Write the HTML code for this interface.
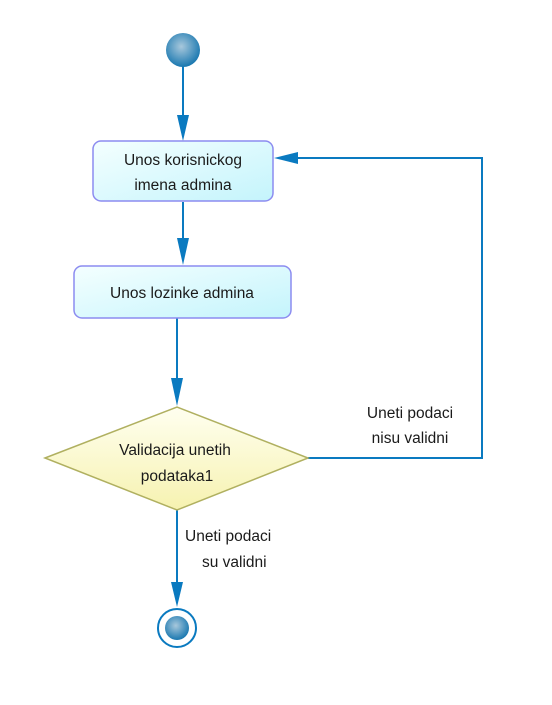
<!DOCTYPE html>
<html><head><style>body{margin:0;background:#fff}</style></head><body>
<svg width="552" height="700" xmlns="http://www.w3.org/2000/svg" font-family="Liberation Sans, sans-serif" font-size="15.5" fill="#1a1a1a">
<defs>
<radialGradient id="g" cx="45%" cy="40%" r="60%"><stop offset="0" stop-color="#a8c8dc"/><stop offset="1" stop-color="#1a78b0"/></radialGradient>
<linearGradient id="b" x1="0" y1="0" x2="1" y2="1"><stop offset="0" stop-color="#f4ffff"/><stop offset="1" stop-color="#c4f4fc"/></linearGradient>
<linearGradient id="d" x1="0" y1="0" x2="0" y2="1"><stop offset="0" stop-color="#fffff0"/><stop offset="1" stop-color="#f6f2b0"/></linearGradient>
</defs>
<g stroke="#0a7ac0" stroke-width="2" fill="none">
<line x1="183" y1="66" x2="183" y2="120"/>
<line x1="183" y1="202" x2="183" y2="244"/>
<line x1="177" y1="318" x2="177" y2="384"/>
<line x1="177" y1="510" x2="177" y2="588"/>
<polyline points="308,458 482,458 482,158 292,158"/>
</g>
<g fill="#0a7ac0">
<polygon points="177,115 189,115 183,141"/>
<polygon points="177,238 189,238 183,265"/>
<polygon points="171,378 183,378 177,406"/>
<polygon points="171,582 183,582 177,607"/>
<polygon points="298,152 298,164 274,158"/>
</g>
<circle cx="183" cy="50" r="17" fill="url(#g)"/>
<rect x="93" y="141" width="180" height="60" rx="8" fill="url(#b)" stroke="#8c8cf0" stroke-width="1.5"/>
<text x="183" y="165" text-anchor="middle">Unos korisnickog</text>
<text x="183" y="190" text-anchor="middle">imena admina</text>
<rect x="74" y="266" width="217" height="52" rx="8" fill="url(#b)" stroke="#8c8cf0" stroke-width="1.5"/>
<text x="182" y="298" text-anchor="middle">Unos lozinke admina</text>
<polygon points="45,458 177,407 308,458 177,510" fill="url(#d)" stroke="#b0b060" stroke-width="1.5"/>
<text x="175" y="455" text-anchor="middle">Validacija unetih</text>
<text x="177" y="481" text-anchor="middle">podataka1</text>
<text x="410" y="418" text-anchor="middle">Uneti podaci</text>
<text x="410" y="443" text-anchor="middle">nisu validni</text>
<text x="185" y="541">Uneti podaci</text>
<text x="202" y="567">su validni</text>
<circle cx="177" cy="628" r="19" fill="#fff" stroke="#0a7ac0" stroke-width="2"/>
<circle cx="177" cy="628" r="12" fill="url(#g)"/>
</svg>
</body></html>
